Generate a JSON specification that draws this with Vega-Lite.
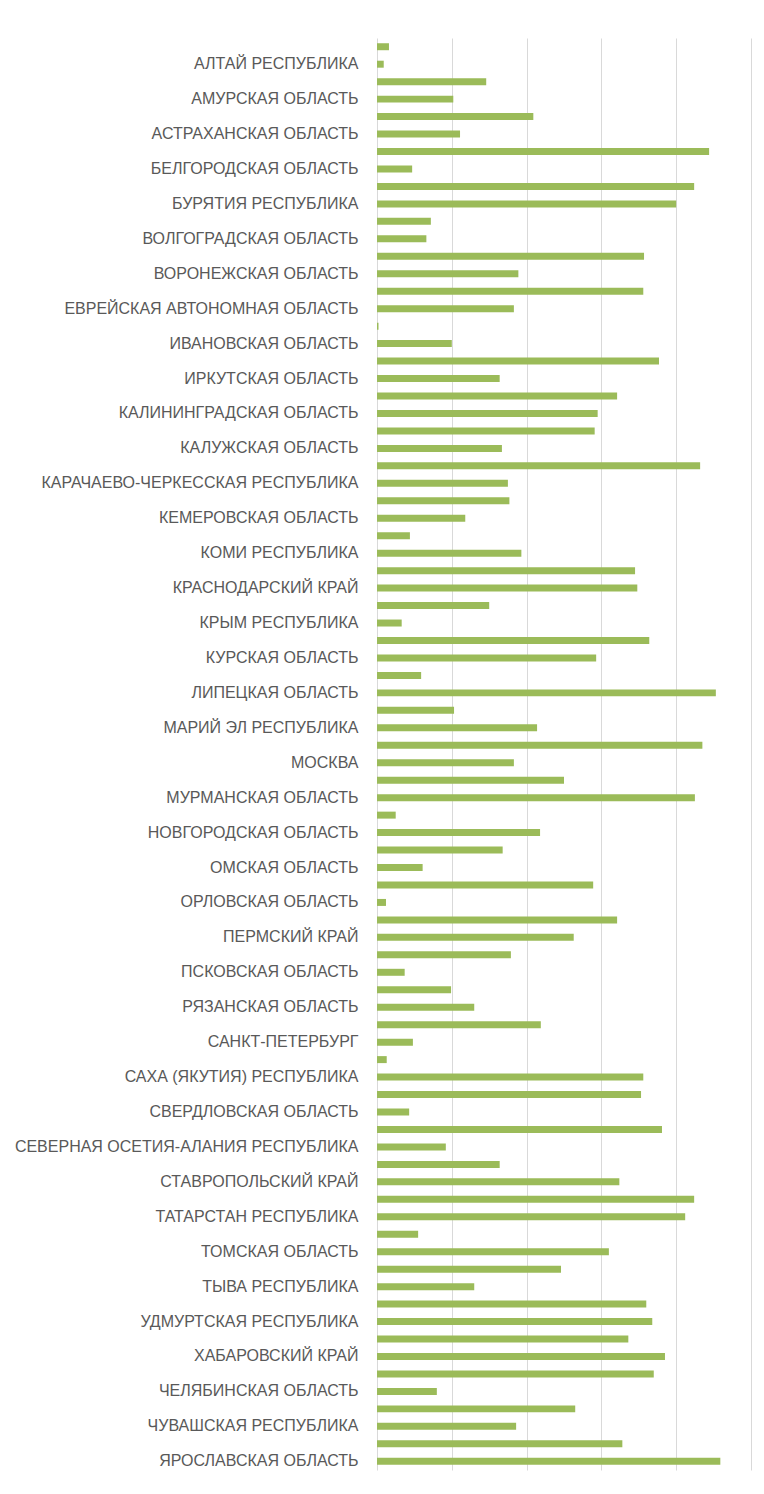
{
  "$schema": "https://vega.github.io/schema/vega-lite/v6.json",
  "width": 374,
  "height": 1432,
  "autosize": "none",
  "padding": {"left": 377, "top": 38, "right": 13, "bottom": 24},
  "background": "white",
  "config": {"view": {"stroke": null}},
  "data": {
    "values": [
      {"region": "АДЫГЕЯ РЕСПУБЛИКА", "value": 0.16},
      {"region": "АЛТАЙ РЕСПУБЛИКА", "value": 0.09},
      {"region": "АЛТАЙСКИЙ КРАЙ", "value": 1.46},
      {"region": "АМУРСКАЯ ОБЛАСТЬ", "value": 1.02},
      {"region": "АРХАНГЕЛЬСКАЯ ОБЛАСТЬ", "value": 2.09},
      {"region": "АСТРАХАНСКАЯ ОБЛАСТЬ", "value": 1.11},
      {"region": "БАШКОРТОСТАН РЕСПУБЛИКА", "value": 4.44},
      {"region": "БЕЛГОРОДСКАЯ ОБЛАСТЬ", "value": 0.47},
      {"region": "БРЯНСКАЯ ОБЛАСТЬ", "value": 4.24},
      {"region": "БУРЯТИЯ РЕСПУБЛИКА", "value": 4.0},
      {"region": "ВЛАДИМИРСКАЯ ОБЛАСТЬ", "value": 0.72},
      {"region": "ВОЛГОГРАДСКАЯ ОБЛАСТЬ", "value": 0.66},
      {"region": "ВОЛОГОДСКАЯ ОБЛАСТЬ", "value": 3.57},
      {"region": "ВОРОНЕЖСКАЯ ОБЛАСТЬ", "value": 1.89},
      {"region": "ДАГЕСТАН РЕСПУБЛИКА", "value": 3.56},
      {"region": "ЕВРЕЙСКАЯ АВТОНОМНАЯ ОБЛАСТЬ", "value": 1.83},
      {"region": "ЗАБАЙКАЛЬСКИЙ КРАЙ", "value": 0.02},
      {"region": "ИВАНОВСКАЯ ОБЛАСТЬ", "value": 1.0},
      {"region": "ИНГУШЕТИЯ РЕСПУБЛИКА", "value": 3.77},
      {"region": "ИРКУТСКАЯ ОБЛАСТЬ", "value": 1.64},
      {"region": "КАБАРДИНО-БАЛКАРСКАЯ РЕСПУБЛИКА", "value": 3.21},
      {"region": "КАЛИНИНГРАДСКАЯ ОБЛАСТЬ", "value": 2.95},
      {"region": "КАЛМЫКИЯ РЕСПУБЛИКА", "value": 2.91},
      {"region": "КАЛУЖСКАЯ ОБЛАСТЬ", "value": 1.67},
      {"region": "КАМЧАТСКИЙ КРАЙ", "value": 4.32},
      {"region": "КАРАЧАЕВО-ЧЕРКЕССКАЯ РЕСПУБЛИКА", "value": 1.75},
      {"region": "КАРЕЛИЯ РЕСПУБЛИКА", "value": 1.77},
      {"region": "КЕМЕРОВСКАЯ ОБЛАСТЬ", "value": 1.18},
      {"region": "КИРОВСКАЯ ОБЛАСТЬ", "value": 0.44},
      {"region": "КОМИ РЕСПУБЛИКА", "value": 1.93},
      {"region": "КОСТРОМСКАЯ ОБЛАСТЬ", "value": 3.45},
      {"region": "КРАСНОДАРСКИЙ КРАЙ", "value": 3.48},
      {"region": "КРАСНОЯРСКИЙ КРАЙ", "value": 1.5},
      {"region": "КРЫМ РЕСПУБЛИКА", "value": 0.33},
      {"region": "КУРГАНСКАЯ ОБЛАСТЬ", "value": 3.64},
      {"region": "КУРСКАЯ ОБЛАСТЬ", "value": 2.93},
      {"region": "ЛЕНИНГРАДСКАЯ ОБЛАСТЬ", "value": 0.59},
      {"region": "ЛИПЕЦКАЯ ОБЛАСТЬ", "value": 4.53},
      {"region": "МАГАДАНСКАЯ ОБЛАСТЬ", "value": 1.03},
      {"region": "МАРИЙ ЭЛ РЕСПУБЛИКА", "value": 2.14},
      {"region": "МОРДОВИЯ РЕСПУБЛИКА", "value": 4.35},
      {"region": "МОСКВА", "value": 1.83},
      {"region": "МОСКОВСКАЯ ОБЛАСТЬ", "value": 2.5},
      {"region": "МУРМАНСКАЯ ОБЛАСТЬ", "value": 4.25},
      {"region": "НИЖЕГОРОДСКАЯ ОБЛАСТЬ", "value": 0.25},
      {"region": "НОВГОРОДСКАЯ ОБЛАСТЬ", "value": 2.18},
      {"region": "НОВОСИБИРСКАЯ ОБЛАСТЬ", "value": 1.68},
      {"region": "ОМСКАЯ ОБЛАСТЬ", "value": 0.61},
      {"region": "ОРЕНБУРГСКАЯ ОБЛАСТЬ", "value": 2.89},
      {"region": "ОРЛОВСКАЯ ОБЛАСТЬ", "value": 0.12},
      {"region": "ПЕНЗЕНСКАЯ ОБЛАСТЬ", "value": 3.21},
      {"region": "ПЕРМСКИЙ КРАЙ", "value": 2.63},
      {"region": "ПРИМОРСКИЙ КРАЙ", "value": 1.79},
      {"region": "ПСКОВСКАЯ ОБЛАСТЬ", "value": 0.37},
      {"region": "РОСТОВСКАЯ ОБЛАСТЬ", "value": 0.99},
      {"region": "РЯЗАНСКАЯ ОБЛАСТЬ", "value": 1.3},
      {"region": "САМАРСКАЯ ОБЛАСТЬ", "value": 2.19},
      {"region": "САНКТ-ПЕТЕРБУРГ", "value": 0.48},
      {"region": "САРАТОВСКАЯ ОБЛАСТЬ", "value": 0.13},
      {"region": "САХА (ЯКУТИЯ) РЕСПУБЛИКА", "value": 3.56},
      {"region": "САХАЛИНСКАЯ ОБЛАСТЬ", "value": 3.53},
      {"region": "СВЕРДЛОВСКАЯ ОБЛАСТЬ", "value": 0.43},
      {"region": "СЕВАСТОПОЛЬ", "value": 3.81},
      {"region": "СЕВЕРНАЯ ОСЕТИЯ-АЛАНИЯ РЕСПУБЛИКА", "value": 0.92},
      {"region": "СМОЛЕНСКАЯ ОБЛАСТЬ", "value": 1.64},
      {"region": "СТАВРОПОЛЬСКИЙ КРАЙ", "value": 3.24},
      {"region": "ТАМБОВСКАЯ ОБЛАСТЬ", "value": 4.24},
      {"region": "ТАТАРСТАН РЕСПУБЛИКА", "value": 4.12},
      {"region": "ТВЕРСКАЯ ОБЛАСТЬ", "value": 0.55},
      {"region": "ТОМСКАЯ ОБЛАСТЬ", "value": 3.1},
      {"region": "ТУЛЬСКАЯ ОБЛАСТЬ", "value": 2.46},
      {"region": "ТЫВА РЕСПУБЛИКА", "value": 1.3},
      {"region": "ТЮМЕНСКАЯ ОБЛАСТЬ", "value": 3.6},
      {"region": "УДМУРТСКАЯ РЕСПУБЛИКА", "value": 3.68},
      {"region": "УЛЬЯНОВСКАЯ ОБЛАСТЬ", "value": 3.36},
      {"region": "ХАБАРОВСКИЙ КРАЙ", "value": 3.85},
      {"region": "ХАКАСИЯ РЕСПУБЛИКА", "value": 3.7},
      {"region": "ЧЕЛЯБИНСКАЯ ОБЛАСТЬ", "value": 0.8},
      {"region": "ЧЕЧЕНСКАЯ РЕСПУБЛИКА", "value": 2.65},
      {"region": "ЧУВАШСКАЯ РЕСПУБЛИКА", "value": 1.86},
      {"region": "ЧУКОТСКИЙ АВТОНОМНЫЙ ОКРУГ", "value": 3.28},
      {"region": "ЯРОСЛАВСКАЯ ОБЛАСТЬ", "value": 4.59}
    ]
  },
  "mark": {"type": "bar", "color": "#9bbb59"},
  "encoding": {
    "y": {
      "field": "region",
      "type": "nominal",
      "sort": null,
      "scale": {"paddingInner": 0.6, "paddingOuter": 0.3},
      "axis": {
        "title": null,
        "values": ["АЛТАЙ РЕСПУБЛИКА", "АМУРСКАЯ ОБЛАСТЬ", "АСТРАХАНСКАЯ ОБЛАСТЬ", "БЕЛГОРОДСКАЯ ОБЛАСТЬ", "БУРЯТИЯ РЕСПУБЛИКА", "ВОЛГОГРАДСКАЯ ОБЛАСТЬ", "ВОРОНЕЖСКАЯ ОБЛАСТЬ", "ЕВРЕЙСКАЯ АВТОНОМНАЯ ОБЛАСТЬ", "ИВАНОВСКАЯ ОБЛАСТЬ", "ИРКУТСКАЯ ОБЛАСТЬ", "КАЛИНИНГРАДСКАЯ ОБЛАСТЬ", "КАЛУЖСКАЯ ОБЛАСТЬ", "КАРАЧАЕВО-ЧЕРКЕССКАЯ РЕСПУБЛИКА", "КЕМЕРОВСКАЯ ОБЛАСТЬ", "КОМИ РЕСПУБЛИКА", "КРАСНОДАРСКИЙ КРАЙ", "КРЫМ РЕСПУБЛИКА", "КУРСКАЯ ОБЛАСТЬ", "ЛИПЕЦКАЯ ОБЛАСТЬ", "МАРИЙ ЭЛ РЕСПУБЛИКА", "МОСКВА", "МУРМАНСКАЯ ОБЛАСТЬ", "НОВГОРОДСКАЯ ОБЛАСТЬ", "ОМСКАЯ ОБЛАСТЬ", "ОРЛОВСКАЯ ОБЛАСТЬ", "ПЕРМСКИЙ КРАЙ", "ПСКОВСКАЯ ОБЛАСТЬ", "РЯЗАНСКАЯ ОБЛАСТЬ", "САНКТ-ПЕТЕРБУРГ", "САХА (ЯКУТИЯ) РЕСПУБЛИКА", "СВЕРДЛОВСКАЯ ОБЛАСТЬ", "СЕВЕРНАЯ ОСЕТИЯ-АЛАНИЯ РЕСПУБЛИКА", "СТАВРОПОЛЬСКИЙ КРАЙ", "ТАТАРСТАН РЕСПУБЛИКА", "ТОМСКАЯ ОБЛАСТЬ", "ТЫВА РЕСПУБЛИКА", "УДМУРТСКАЯ РЕСПУБЛИКА", "ХАБАРОВСКИЙ КРАЙ", "ЧЕЛЯБИНСКАЯ ОБЛАСТЬ", "ЧУВАШСКАЯ РЕСПУБЛИКА", "ЯРОСЛАВСКАЯ ОБЛАСТЬ"],
        "ticks": false,
        "tickSize": 0,
        "labelPadding": 19,
        "labelFont": "Liberation Sans",
        "labelFontSize": 16,
        "labelColor": "#595959",
        "labelLimit": 400,
        "domainColor": "#d9d9d9",
        "domainWidth": 1,
        "grid": false
      }
    },
    "x": {
      "field": "value",
      "type": "quantitative",
      "scale": {"domain": [0, 5], "nice": false, "zero": true},
      "axis": {
        "title": null,
        "values": [1, 2, 3, 4, 5],
        "labels": false,
        "ticks": false,
        "domain": false,
        "grid": true,
        "gridColor": "#d9d9d9",
        "gridWidth": 1
      }
    }
  }
}
